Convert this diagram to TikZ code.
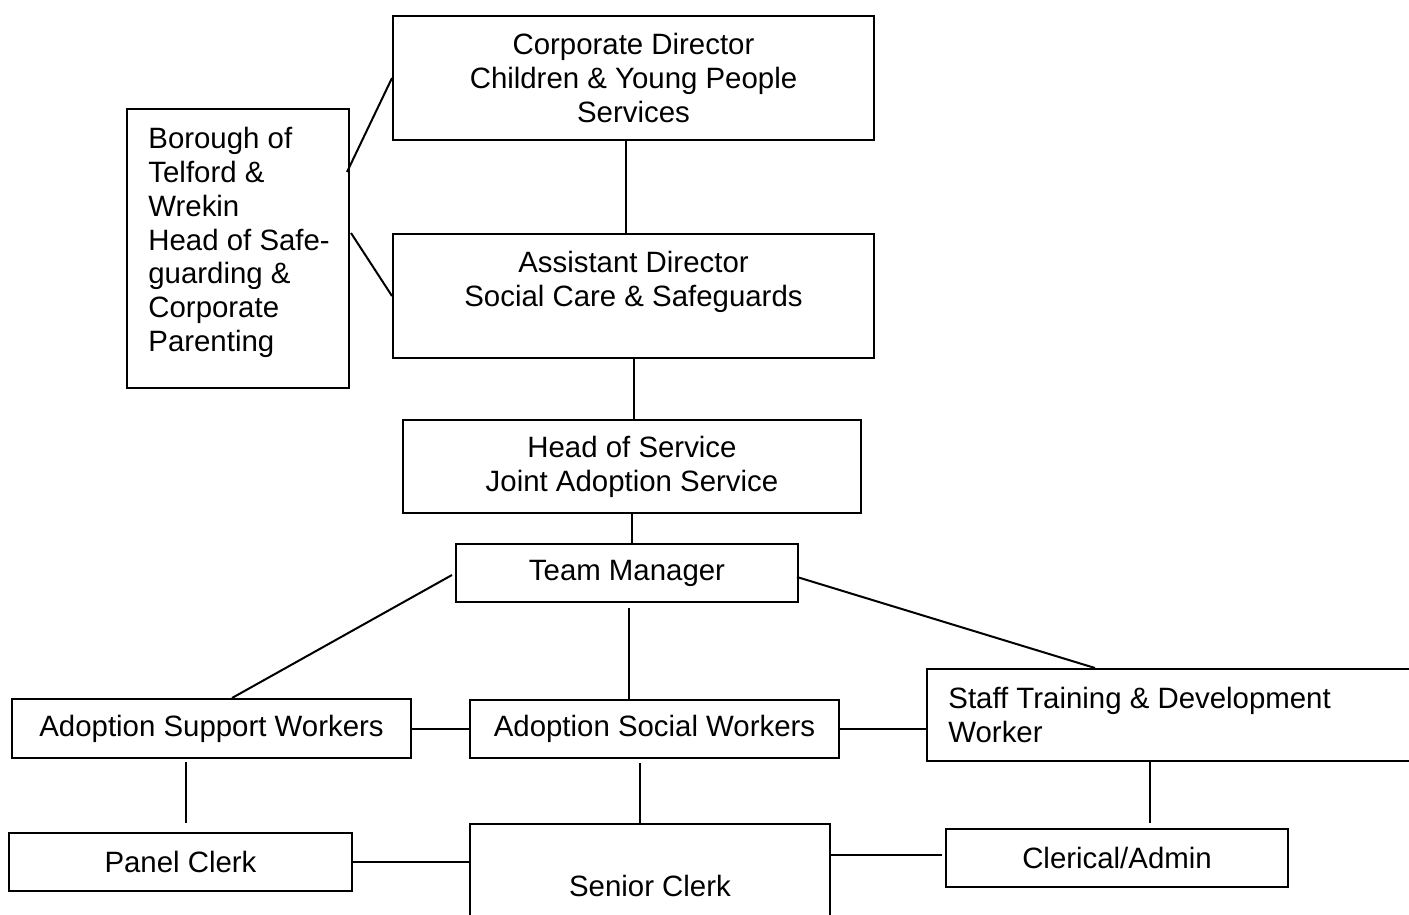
\documentclass[tikz,border=0pt]{standalone}
\usepackage{fontspec}
\setmainfont{Liberation Sans}
\usetikzlibrary{calc}

\tikzset{
  orgbox/.style={draw, line width=1pt, rectangle, align=center, inner sep=0pt},
  orgtext/.style={inner sep=0pt, anchor=north west, align=left},
  orgline/.style={line width=1pt}
}

\begin{document}
\begin{tikzpicture}[x=0.5pt,y=-0.5pt,font=\fontsize{14.7}{16.9}\selectfont]
        \useasboundingbox (0,0) rectangle (1409,915);
        \clip (0,0) rectangle (1409,915);

        %Shape: Rectangle [top]
        \node[orgbox, minimum width=240.5pt, minimum height=62pt] (corp) at (633.5,78) {Corporate Director\\Children \& Young People\\Services};
        \node[orgbox, minimum width=111pt, minimum height=139.5pt] (bor) at (238,248.5) {};
        \node[orgbox, minimum width=240.5pt, minimum height=62pt] (asst) at (633.5,296) {};
        \node[orgbox, minimum width=229pt, minimum height=46.5pt] (hos) at (632,466.5) {Head of Service\\Joint Adoption Service};
        \node[orgbox, minimum width=171pt, minimum height=29pt] (tm) at (627,573) {Team Manager};

        %Shape: Rectangle [workers]
        \node[orgbox, minimum width=199.5pt, minimum height=29.5pt] (asw) at (211.5,728.5) {Adoption Support Workers};
        \node[orgbox, minimum width=184.5pt, minimum height=29pt] (soc) at (654.5,729) {Adoption Social Workers};
        \node[orgbox, minimum width=251.5pt, minimum height=46pt] (stf) at (1178.5,715) {};

        %Shape: Rectangle [clerks]
        \node[orgbox, minimum width=171.5pt, minimum height=29pt] (pc) at (180.5,862) {Panel Clerk};
        \node[orgbox, minimum width=180pt, minimum height=62pt] (sen) at (650,886) {Senior Clerk};
        \node[orgbox, minimum width=171pt, minimum height=29pt] (cla) at (1117,858) {Clerical/Admin};

        % Text Node
        \node[orgtext] (bortext) at (148,127) {Borough of\\Telford \&\\Wrekin\\Head of Safe-\\guarding \&\\Corporate\\Parenting};
        % Text Node
        \node[orgtext, anchor=north, align=center] (assttext) at (633.5,251) {Assistant Director\\Social Care \& Safeguards};
        % Text Node
        \node[orgtext] (stftext) at (948,687) {Staff Training \& Development\\Worker};

        %Straight Lines
        \draw[orgline] ($(corp.south)+(-7.5,0)$) -- ($(asst.north)+(-7.5,0)$);
        \draw[orgline] ($(bor.east)+(-3,-76.5)$) -- (corp.west);
        \draw[orgline] ($(bor.east)+(1,-15.5)$) -- (asst.west);
        \draw[orgline] (asst.south) -- (asst.south |- hos.north);
        \draw[orgline] (hos.south) -- (hos.south |- tm.north);
        \draw[orgline] ($(tm.west)+(-3,2)$) -- ($(asw.north)+(20.5,0)$);
        \draw[orgline] ($(tm.south)+(2,5)$) -- ($(soc.north)+(-25.5,0)$);
        \draw[orgline] ($(tm.east)+(-2,4)$) -- ($(stf.north)+(-83.5,0)$);
        \draw[orgline] (asw.east) -- (asw.east -| soc.west);
        \draw[orgline] (soc.east) -- (soc.east -| stf.west);
        \draw[orgline] ($(asw.south)+(-25.5,3)$) -- ($(pc.north)+(5.5,-9)$);
        \draw[orgline] ($(soc.south)+(-14.5,4)$) -- ($(sen.north)+(-10,0)$);
        \draw[orgline] ($(stf.south)+(-28.5,0)$) -- ($(cla.north)+(33,-5)$);
        \draw[orgline] (pc.east) -- (pc.east -| sen.west);
        \draw[orgline] ($(sen.east)+(0,-31)$) -- ($(cla.west)+(-3,-3)$);

\end{tikzpicture}
\end{document}
